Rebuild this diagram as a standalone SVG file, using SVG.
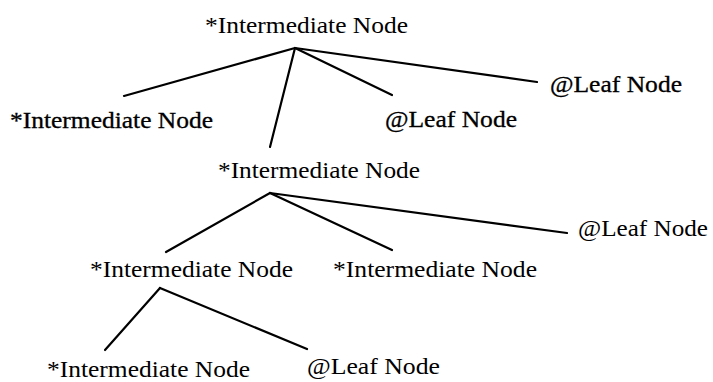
<svg xmlns="http://www.w3.org/2000/svg" width="713" height="382" viewBox="0 0 713 382">
<style>
text{font-family:"Liberation Serif","Times New Roman",serif;font-size:23px;fill:#000}
.dark{stroke:#000;stroke-width:0.3}
#connectors line{stroke:#000;stroke-width:2.2;stroke-linecap:round}
</style>
<rect width="713" height="382" fill="#fff"/>
<g id="connectors">
<line x1="295" y1="48" x2="124" y2="96"/>
<line x1="295" y1="48" x2="270" y2="147"/>
<line x1="295" y1="48" x2="392" y2="95"/>
<line x1="295" y1="48" x2="537" y2="82"/>
<line x1="270" y1="193" x2="166" y2="252"/>
<line x1="270" y1="193" x2="392" y2="250"/>
<line x1="270" y1="193" x2="567" y2="233"/>
<line x1="160" y1="288" x2="105" y2="350"/>
<line x1="160" y1="288" x2="307" y2="349"/>
</g>
<g id="root"><text x="205" y="33" textLength="203" lengthAdjust="spacingAndGlyphs">*Intermediate Node</text></g>
<g id="int1"><text class="dark" x="10" y="128" textLength="203" lengthAdjust="spacingAndGlyphs">*Intermediate Node</text></g>
<g id="leaf1"><text class="dark" x="385" y="127" textLength="132" lengthAdjust="spacingAndGlyphs">@Leaf Node</text></g>
<g id="leaf2"><text class="dark" x="550" y="92" textLength="132" lengthAdjust="spacingAndGlyphs">@Leaf Node</text></g>
<g id="int2"><text x="218" y="178" textLength="202" lengthAdjust="spacingAndGlyphs">*Intermediate Node</text></g>
<g id="leaf3"><text x="578" y="236" textLength="130" lengthAdjust="spacingAndGlyphs">@Leaf Node</text></g>
<g id="int3"><text x="90" y="277" textLength="203" lengthAdjust="spacingAndGlyphs">*Intermediate Node</text></g>
<g id="int4"><text x="333" y="277" textLength="204" lengthAdjust="spacingAndGlyphs">*Intermediate Node</text></g>
<g id="int5"><text x="47" y="377" textLength="203" lengthAdjust="spacingAndGlyphs">*Intermediate Node</text></g>
<g id="leaf4"><text x="307" y="374" textLength="133" lengthAdjust="spacingAndGlyphs">@Leaf Node</text></g>
</svg>
